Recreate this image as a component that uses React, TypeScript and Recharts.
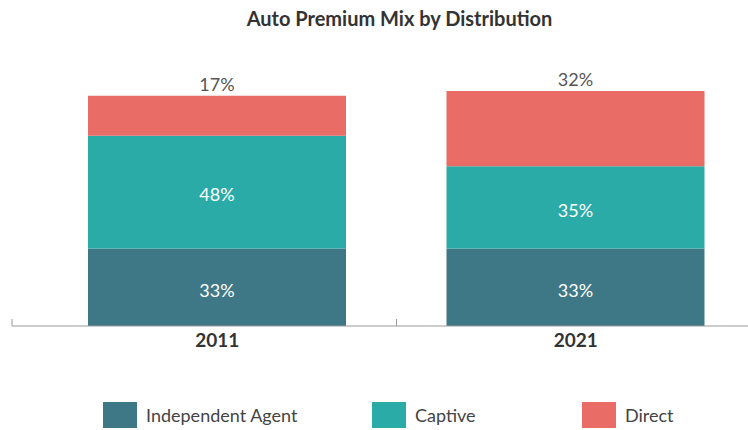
import React from 'react';
import { BarChart, Bar, XAxis, YAxis, LabelList } from 'recharts';

// data
const YEARS = ['2011', '2021'];
const INDEPENDENT_AGENT = [33, 33];
const CAPTIVE = [48, 35];
const DIRECT = [17, 32];

const SERIES = [
  { key: 'independent', name: 'Independent Agent', color: '#3e7886' },
  { key: 'captive', name: 'Captive', color: '#2aaba8' },
  { key: 'direct', name: 'Direct', color: '#ea6c66' },
];

const data = YEARS.map((year, i) => ({
  year,
  independent: INDEPENDENT_AGENT[i],
  captive: CAPTIVE[i],
  direct: DIRECT[i],
}));

const FONT = 'Lato, "Open Sans", sans-serif';
const CHART_W = 760;
const MARGIN = { top: 91, right: 5, bottom: 0, left: 12 };
const PAD_LEFT = 26;
const HALF_BAND = (CHART_W - MARGIN.left - MARGIN.right - PAD_LEFT) / YEARS.length / 2;

const pct = (v: any) => `${v}%`;

function YearTick({ x, y, payload, index }: any) {
  const lineX = index === 0 ? x - HALF_BAND - PAD_LEFT : x - HALF_BAND;
  return (
    <g>
      <line x1={lineX} x2={lineX} y1={y} y2={y - 7} stroke="#9a9a9a" strokeWidth={1} />
      <text x={x} y={y + 21} textAnchor="middle" fill="#333" fontSize={19} fontWeight={700} fontFamily={FONT}>
        {payload.value}
      </text>
    </g>
  );
}

export default function App() {
  return (
    <div style={{ position: 'relative', width: 748, height: 430, overflow: 'hidden', background: '#fff', fontFamily: FONT }}>
      <style>{'body{margin:0}'}</style>
      <div style={{ position: 'absolute', top: 6, left: 0, width: 799, textAlign: 'center', fontSize: 20, fontWeight: 700, color: '#333' }}>
        Auto Premium Mix by Distribution
      </div>
      <BarChart width={CHART_W} height={430} data={data} margin={MARGIN}>
        <YAxis hide domain={[0, 100]} />
        <XAxis
          dataKey="year"
          height={104}
          padding={{ left: PAD_LEFT, right: 0 }}
          axisLine={{ stroke: '#9a9a9a' }}
          tickLine={false}
          tickSize={0}
          tickMargin={0}
          tick={<YearTick />}
          interval={0}
        />
        <Bar dataKey="independent" stackId="a" fill={SERIES[0].color} barSize={258} isAnimationActive={false}>
          <LabelList dataKey="independent" position="center" formatter={pct} fill="#fff" fontSize={18} fontFamily={FONT} dy={3} />
        </Bar>
        <Bar dataKey="captive" stackId="a" fill={SERIES[1].color} barSize={258} isAnimationActive={false}>
          <LabelList dataKey="captive" position="center" formatter={pct} fill="#fff" fontSize={18} fontFamily={FONT} dy={3} />
        </Bar>
        <Bar dataKey="direct" stackId="a" fill={SERIES[2].color} barSize={258} isAnimationActive={false}>
          <LabelList dataKey="direct" position="top" offset={5} formatter={pct} fill="#555" fontSize={18} fontFamily={FONT} />
        </Bar>
      </BarChart>
      <div style={{ position: 'absolute', top: 402, left: 103, display: 'flex', alignItems: 'center' }}>
        {SERIES.map((s, i) => (
          <div key={s.key} style={{ display: 'flex', alignItems: 'center', width: i === 0 ? 269 : i === 1 ? 210 : 'auto' }}>
            <span style={{ display: 'inline-block', width: 34, height: 26, background: s.color, marginRight: 9 }} />
            <span style={{ fontSize: 18, color: '#444' }}>{s.name}</span>
          </div>
        ))}
      </div>
    </div>
  );
}
